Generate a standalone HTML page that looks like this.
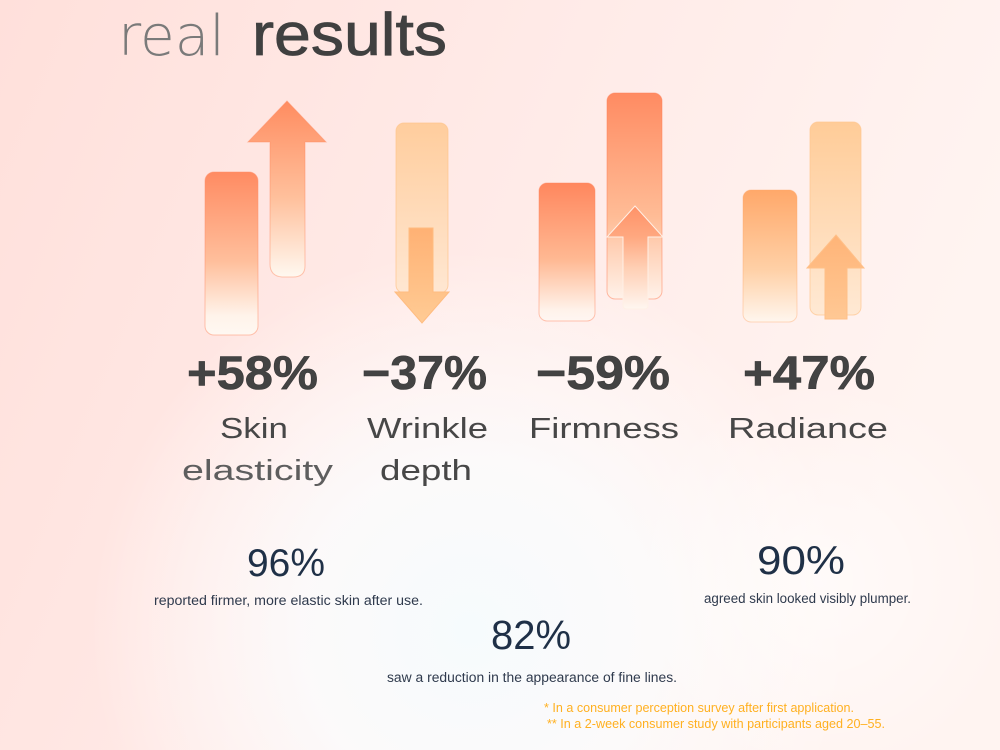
<!DOCTYPE html>
<html><head><meta charset="utf-8"><style>
html,body{margin:0;padding:0;width:1000px;height:750px;overflow:hidden;background:#ffeae7}
svg{display:block}
</style></head><body>
<svg width="1000" height="750" viewBox="0 0 1000 750" xmlns="http://www.w3.org/2000/svg">
<defs>
<linearGradient id="bg" x1="0" y1="0" x2="1" y2="0.3">
<stop offset="0" stop-color="#ffe0db"/><stop offset="0.5" stop-color="#ffeae7"/><stop offset="1" stop-color="#fff4f1"/>
</linearGradient>
<radialGradient id="glow" cx="470" cy="630" r="380" gradientUnits="userSpaceOnUse">
<stop offset="0" stop-color="#f6fbfd" stop-opacity="1"/><stop offset="0.45" stop-color="#fbfcfd" stop-opacity="0.85"/><stop offset="1" stop-color="#ffffff" stop-opacity="0"/>
</radialGradient>
<radialGradient id="glow2" cx="820" cy="580" r="200" gradientUnits="userSpaceOnUse">
<stop offset="0" stop-color="#ffffff" stop-opacity="0.6"/><stop offset="1" stop-color="#ffffff" stop-opacity="0"/>
</radialGradient>
<linearGradient id="b1" x1="0" y1="0" x2="0" y2="1">
<stop offset="0" stop-color="#ff8b62"/><stop offset="0.55" stop-color="#ffbf9c"/><stop offset="0.88" stop-color="#fff3ea"/><stop offset="1" stop-color="#fff8f2"/>
</linearGradient>
<linearGradient id="a1" x1="0" y1="0" x2="0" y2="1">
<stop offset="0" stop-color="#ff8c60"/><stop offset="0.55" stop-color="#ffc09c"/><stop offset="1" stop-color="#fff8f0"/>
</linearGradient>
<linearGradient id="b2" x1="0" y1="0" x2="0" y2="1">
<stop offset="0" stop-color="#ffcd9d"/><stop offset="1" stop-color="#ffe7d2"/>
</linearGradient>
<linearGradient id="a2" x1="0" y1="0" x2="0" y2="1">
<stop offset="0" stop-color="#ffb174"/><stop offset="1" stop-color="#ffcb94"/>
</linearGradient>
<linearGradient id="b3" x1="0" y1="0" x2="0" y2="1">
<stop offset="0" stop-color="#ff875e"/><stop offset="0.55" stop-color="#ffb892"/><stop offset="0.92" stop-color="#fff2ea"/><stop offset="1" stop-color="#fff6f2"/>
</linearGradient>
<linearGradient id="b3r" x1="0" y1="0" x2="0" y2="1">
<stop offset="0" stop-color="#ff8b62"/><stop offset="0.6" stop-color="#ffbc96"/><stop offset="1" stop-color="#fff2ea"/>
</linearGradient>
<linearGradient id="a3" x1="0" y1="0" x2="0" y2="1">
<stop offset="0" stop-color="#ff9268"/><stop offset="0.3" stop-color="#ffa880"/><stop offset="0.6" stop-color="#ffcfb4"/><stop offset="1" stop-color="#fff6f0"/>
</linearGradient>
<linearGradient id="b4" x1="0" y1="0" x2="0" y2="1">
<stop offset="0" stop-color="#ffa86a"/><stop offset="0.6" stop-color="#ffd0a6"/><stop offset="1" stop-color="#fff6ee"/>
</linearGradient>
<linearGradient id="b4r" x1="0" y1="0" x2="0" y2="1">
<stop offset="0" stop-color="#ffcc98"/><stop offset="1" stop-color="#ffe9d4"/>
</linearGradient>
<linearGradient id="a4" x1="0" y1="0" x2="0" y2="1">
<stop offset="0" stop-color="#ffb478"/><stop offset="1" stop-color="#ffc894"/>
</linearGradient>
</defs>

<rect x="0" y="0" width="1000" height="750" fill="url(#bg)"/>
<rect x="0" y="0" width="1000" height="750" fill="url(#glow)"/>
<rect x="0" y="0" width="1000" height="750" fill="url(#glow2)"/>

<!-- Title -->
<text x="118" y="55" font-family="DejaVu Sans, Liberation Sans, sans-serif" font-weight="200" font-size="56" fill="#7a7a7a" textLength="107" lengthAdjust="spacingAndGlyphs">real</text>
<text x="252" y="55" font-family="Liberation Sans, sans-serif" font-size="60" fill="#404040" stroke="#404040" stroke-width="0.8" textLength="195" lengthAdjust="spacingAndGlyphs">results</text>

<!-- Group 1 -->
<rect x="205" y="172" width="53" height="163" rx="9" fill="url(#b1)" stroke="#ff8f6a" stroke-opacity="0.5" stroke-width="1"/>
<path d="M287,101 L326,142 L305,142 L305,266 Q305,277 293,277 L282,277 Q270,276 270,264 L270,142 L248,142 Z" fill="url(#a1)" stroke="#ff8a60" stroke-opacity="0.45" stroke-width="1"/>

<!-- Group 2 -->
<rect x="396" y="123" width="52" height="170" rx="8" fill="url(#b2)" stroke="#ffc48c" stroke-opacity="0.7" stroke-width="1"/>
<path d="M409,228 L433,228 L433,292 L449,292 L422,323 L395,292 L409,292 Z" fill="url(#a2)" stroke="#ffbc80" stroke-width="1"/>

<!-- Group 3 -->
<rect x="539" y="183" width="56" height="138" rx="8" fill="url(#b3)" stroke="#ff865e" stroke-opacity="0.45" stroke-width="1"/>
<rect x="607" y="93" width="55" height="206" rx="8" fill="url(#b3r)" stroke="#ff7f58" stroke-opacity="0.5" stroke-width="1"/>
<path d="M635,206 L663,237 L648,237 L648,306 Q648,309 644,309 L627,309 Q623,309 623,305 L623,237 L607,237 Z" fill="url(#a3)" stroke="#fff0e6" stroke-width="1"/>

<!-- Group 4 -->
<rect x="743" y="190" width="54" height="132" rx="8" fill="url(#b4)" stroke="#ffa868" stroke-opacity="0.4" stroke-width="1"/>
<rect x="810" y="122" width="51" height="193" rx="8" fill="url(#b4r)" stroke="#ffc690" stroke-opacity="0.7" stroke-width="1"/>
<path d="M836,235 L864,268 L847,268 L847,319 L825,319 L825,268 L807,268 Z" fill="url(#a4)" stroke="#ffc088" stroke-width="1"/>

<!-- Big numbers -->
<g font-family="Liberation Sans, sans-serif" font-weight="bold" font-size="47" fill="#434343" stroke="#3a3a3a" stroke-width="0.6">
<text x="187" y="389" textLength="131" lengthAdjust="spacingAndGlyphs">+58%</text>
<text x="362" y="389" textLength="125" lengthAdjust="spacingAndGlyphs">−37%</text>
<text x="536" y="389" textLength="134" lengthAdjust="spacingAndGlyphs">−59%</text>
<text x="743" y="389" textLength="132" lengthAdjust="spacingAndGlyphs">+47%</text>
</g>

<!-- Labels -->
<g font-family="Liberation Sans, sans-serif" font-size="29" fill="#474747">
<text x="220" y="438" textLength="68" lengthAdjust="spacingAndGlyphs">Skin</text>
<text x="182" y="480" textLength="151" lengthAdjust="spacingAndGlyphs" fill="#5e5e5e">elasticity</text>
<text x="367" y="438" textLength="121" lengthAdjust="spacingAndGlyphs">Wrinkle</text>
<text x="380" y="480" textLength="92" lengthAdjust="spacingAndGlyphs">depth</text>
<text x="529" y="438" textLength="150" lengthAdjust="spacingAndGlyphs">Firmness</text>
<text x="728" y="438" textLength="160" lengthAdjust="spacingAndGlyphs">Radiance</text>
</g>

<!-- Stats -->
<g font-family="Liberation Sans, sans-serif" fill="#1f3047">
<text x="247" y="576" font-size="39" textLength="78" lengthAdjust="spacingAndGlyphs">96%</text>
<text x="757" y="574" font-size="40" textLength="88" lengthAdjust="spacingAndGlyphs">90%</text>
<text x="491" y="649" font-size="41" textLength="80" lengthAdjust="spacingAndGlyphs">82%</text>
</g>
<g font-family="Liberation Sans, sans-serif" font-size="13.5" fill="#2f3a4d">
<text x="154" y="605" textLength="269" lengthAdjust="spacingAndGlyphs">reported firmer, more elastic skin after use.</text>
<text x="704" y="603" textLength="207" lengthAdjust="spacingAndGlyphs">agreed skin looked visibly plumper.</text>
<text x="387" y="682" textLength="290" lengthAdjust="spacingAndGlyphs">saw a reduction in the appearance of fine lines.</text>
</g>
<g font-family="Liberation Sans, sans-serif" font-size="12.5" fill="#ffb020">
<text x="544" y="712" textLength="310" lengthAdjust="spacingAndGlyphs">* In a consumer perception survey after first application.</text>
<text x="547" y="728" textLength="338" lengthAdjust="spacingAndGlyphs">** In a 2-week consumer study with participants aged 20–55.</text>
</g>
</svg>
</body></html>
